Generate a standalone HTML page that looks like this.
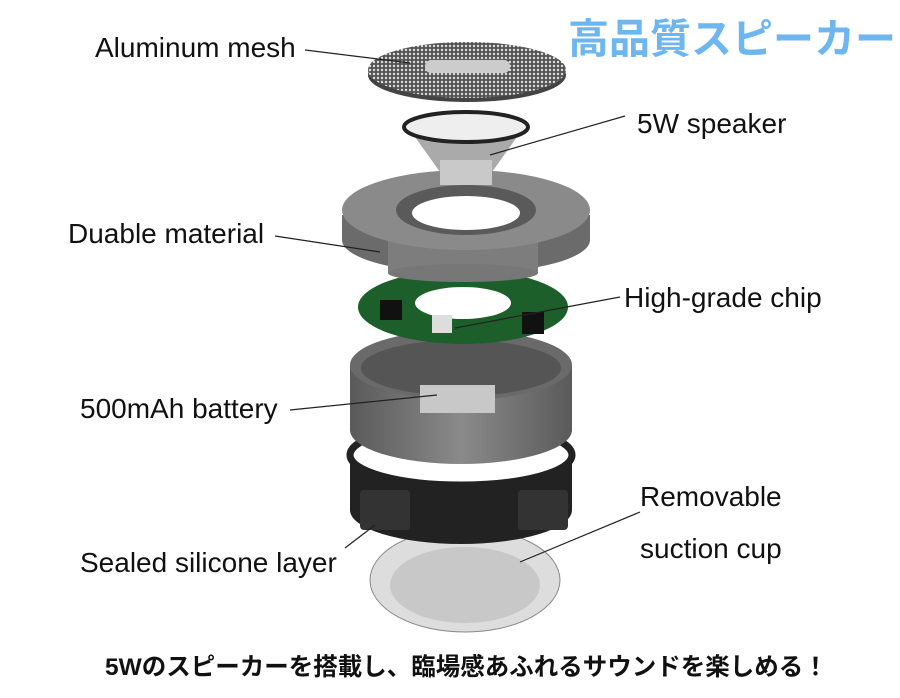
<!DOCTYPE html>
<html><head><meta charset="utf-8"><style>
html,body{margin:0;padding:0;background:#fff;}
.w{position:relative;width:900px;height:698px;overflow:hidden;font-family:"Liberation Sans",Arial,sans-serif;}
.l{position:absolute;font-size:28px;color:#111;white-space:nowrap;}
</style></head><body><div class="w">
<svg width="900" height="698" style="position:absolute;left:0;top:0">
<defs>
<pattern id="mesh" width="4" height="4" patternUnits="userSpaceOnUse"><rect width="4" height="4" fill="#555"/><circle cx="2" cy="2" r="1.2" fill="#ddd"/></pattern>
<linearGradient id="g1" x1="0" x2="1"><stop offset="0" stop-color="#5a5a5a"/><stop offset=".5" stop-color="#8a8a8a"/><stop offset="1" stop-color="#5a5a5a"/></linearGradient>
</defs>
<!-- suction cup -->
<ellipse cx="465" cy="580" rx="95" ry="52" fill="#ddd" stroke="#888"/>
<ellipse cx="465" cy="585" rx="75" ry="38" fill="#bbb" opacity=".6"/>
<!-- black band -->
<path d="M350 455 L350 510 A111 34 0 0 0 572 510 L572 455 Z" fill="#222"/>
<ellipse cx="461" cy="455" rx="111" ry="30" fill="#fff" stroke="#222" stroke-width="7"/>
<rect x="360" y="490" width="50" height="40" rx="4" fill="#333"/>
<rect x="518" y="490" width="50" height="40" rx="4" fill="#333"/>
<!-- battery housing -->
<path d="M350 365 L350 430 A111 34 0 0 0 572 430 L572 365 Z" fill="url(#g1)"/>
<ellipse cx="461" cy="365" rx="111" ry="35" fill="#6a6a6a"/>
<ellipse cx="461" cy="368" rx="100" ry="28" fill="#555"/>
<rect x="420" y="385" width="75" height="28" fill="#c8c8c8"/>
<!-- PCB -->
<ellipse cx="463" cy="307" rx="105" ry="37" fill="#1d5f2a"/>
<ellipse cx="463" cy="303" rx="48" ry="16" fill="#fff"/>
<rect x="432" y="315" width="20" height="18" fill="#ddd"/>
<rect x="380" y="300" width="22" height="20" fill="#111"/>
<rect x="522" y="312" width="22" height="22" fill="#111"/>
<!-- gray housing -->
<path d="M342 215 L342 240 A123 33 0 0 0 590 240 L590 215 Z" fill="#6b6b6b"/>
<rect x="388" y="225" width="150" height="48" fill="#7d7d7d"/>
<ellipse cx="463" cy="273" rx="75" ry="9" fill="#777"/>
<ellipse cx="466" cy="210" rx="124" ry="40" fill="#8a8a8a"/>
<ellipse cx="466" cy="210" rx="70" ry="25" fill="#5a5a5a"/>
<ellipse cx="466" cy="213" rx="54" ry="17" fill="#fff"/>
<!-- speaker -->
<path d="M410 130 L440 172 L492 172 L522 130 Z" fill="#aaa"/>
<rect x="440" y="160" width="52" height="25" fill="#c9c9c9"/>
<ellipse cx="466" cy="127" rx="62" ry="15" fill="#eee" stroke="#222" stroke-width="4"/>
<!-- mesh -->
<ellipse cx="467" cy="75" rx="99" ry="27" fill="#444"/>
<ellipse cx="467" cy="70" rx="99" ry="28" fill="url(#mesh)"/>
<rect x="425" y="60" width="85" height="13" rx="6" fill="#ccc"/>
<!-- leader lines -->
<g stroke="#222" stroke-width="1.2">
<line x1="305" y1="50" x2="410" y2="63"/>
<line x1="625" y1="116" x2="490" y2="155"/>
<line x1="275" y1="236" x2="380" y2="252"/>
<line x1="620" y1="297" x2="455" y2="328"/>
<line x1="290" y1="410" x2="437" y2="395"/>
<line x1="640" y1="512" x2="520" y2="562"/>
<line x1="345" y1="548" x2="375" y2="525"/>
</g>
</svg>
<div class="l" style="left:95px;top:32px">Aluminum mesh</div>
<div class="l" style="left:568px;top:14px;font-family:'Liberation Sans','Noto Sans CJK JP',sans-serif;font-weight:bold;font-size:41px;color:#6db6f0;line-height:50px">高品質スピーカー</div>
<div class="l" style="left:637px;top:108px">5W speaker</div>
<div class="l" style="left:68px;top:218px">Duable material</div>
<div class="l" style="left:624px;top:282px">High-grade chip</div>
<div class="l" style="left:80px;top:393px">500mAh battery</div>
<div class="l" style="left:640px;top:481px">Removable</div>
<div class="l" style="left:640px;top:533px">suction cup</div>
<div class="l" style="left:80px;top:547px">Sealed silicone layer</div>
<div class="l" style="left:105px;top:648px;font-family:'Liberation Sans','Noto Sans CJK JP',sans-serif;font-weight:bold;font-size:24.5px">5Wのスピーカーを搭載し、臨場感あふれるサウンドを楽しめる！</div>
</div></body></html>
